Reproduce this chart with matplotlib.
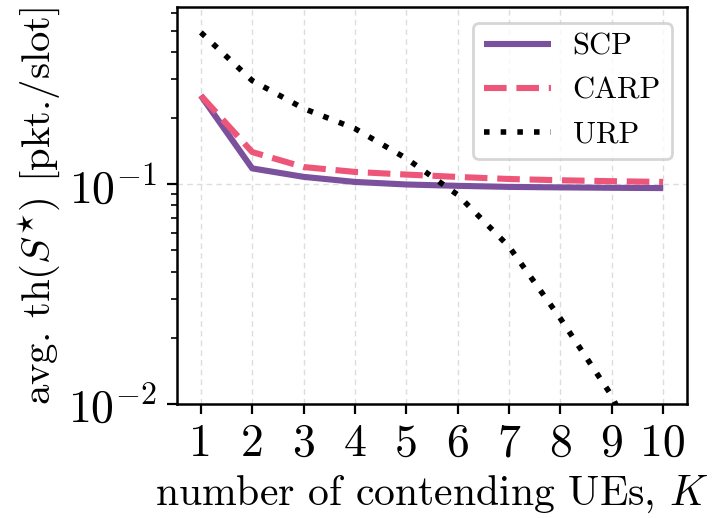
import matplotlib
matplotlib.use("Agg")
import matplotlib.pyplot as plt

K = [1, 2, 3, 4, 5, 6, 7, 8, 9, 10]
scp = [0.253, 0.118, 0.108, 0.1024, 0.0997, 0.0983, 0.0972, 0.0967, 0.0963, 0.0960]
carp = [0.253, 0.140, 0.1197, 0.1137, 0.1106, 0.1079, 0.1056, 0.1042, 0.1032, 0.1024]
urp = [0.490, 0.296, 0.221, 0.179, 0.131, 0.0895, 0.052, 0.0245, 0.0109, 0.0035]
labels = ["SCP", "CARP", "URP"]

plt.rcParams["font.family"] = "cmr10"
plt.rcParams["mathtext.fontset"] = "cm"
plt.rcParams["axes.formatter.use_mathtext"] = True

fig = plt.figure(figsize=(3.58, 2.59), dpi=200)
ax = fig.add_axes([0.2468, 0.220, 0.713, 0.766])

ax.plot(K, scp, color="#7B519D", lw=2.2, solid_capstyle="butt", label=labels[0])
ax.plot(K, carp, color="#EE5679", lw=2.2, linestyle=(0, (3.7, 1.6)), label=labels[1])
ax.plot(K, urp, color="black", lw=2.0, linestyle=(0, (1, 2)), label=labels[2])

ax.set_yscale("log")
ax.set_ylim(0.01, 0.638)
ax.set_xlim(0.53, 10.47)
ax.set_xticks(K)
ax.set_xticklabels([str(k) for k in K])
ax.tick_params(axis="both", which="major", labelsize=16.5, length=3.5, width=0.8, direction="out")
ax.tick_params(axis="y", which="minor", length=2.2, width=0.6, direction="out")
ax.grid(True, which="major", linestyle=(0, (4, 3)), color="#dddddd", linewidth=0.5)
for s in ax.spines.values():
    s.set_linewidth(0.9)

ax.set_xlabel(r"number of contending UEs, $K$", fontsize=15, labelpad=3)
ax.set_ylabel(r"avg. th($S^{\star}$) [pkt./slot]", fontsize=14.7, labelpad=2)

leg = ax.legend(loc="upper right", fontsize=11, handlelength=2.18, handletextpad=0.71,
                borderpad=0.36, borderaxespad=0.5, labelspacing=0.53,
                fancybox=True, framealpha=0.8)

fig.savefig("out.png", dpi=200)
